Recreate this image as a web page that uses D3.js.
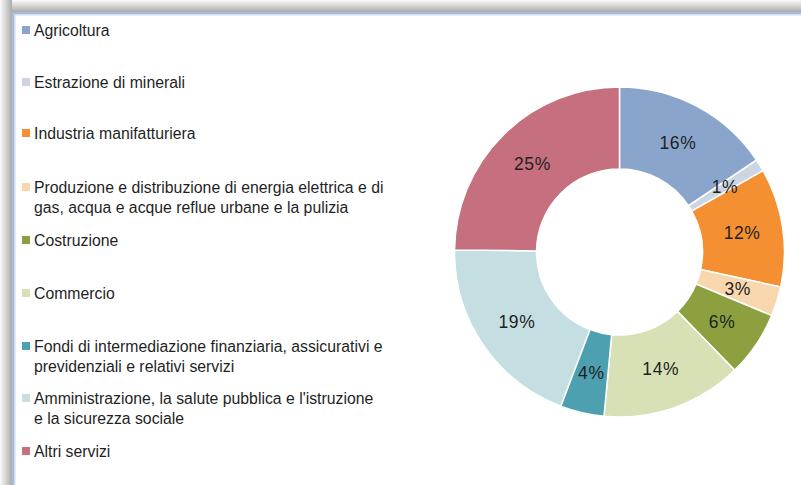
<!DOCTYPE html>
<html>
<head>
<meta charset="utf-8">
<script src="https://cdn.jsdelivr.net/npm/d3@7"></script>
<style>
  body { margin: 0; background: #fff; }
  svg { display: block; }
  text { font-family: "Liberation Sans", Arial, sans-serif; fill: #1f1f1f; }
</style>
</head>
<body>
<svg id="chart" width="801" height="485"></svg>
<script>
// settori e quote (%)
const sectors = [
    'Agricoltura',
    'Estrazione di minerali',
    'Industria manifatturiera',
    'Produzione e distribuzione di energia elettrica e di gas, acqua e acque reflue urbane e la pulizia',
    'Costruzione',
    'Commercio',
    'Fondi di intermediazione finanziaria, assicurativi e previdenziali e relativi servizi',
    'Amministrazione, la salute pubblica e l\'istruzione e la sicurezza sociale',
    'Altri servizi'
];
// legend lines as they wrap in the original
const legendLines = [
    ['Agricoltura'],
    ['Estrazione di minerali'],
    ['Industria manifatturiera'],
    ['Produzione e distribuzione di energia elettrica e di', 'gas, acqua e acque reflue urbane e la pulizia'],
    ['Costruzione'],
    ['Commercio'],
    ['Fondi di intermediazione finanziaria, assicurativi e', 'previdenziali e relativi servizi'],
    ['Amministrazione, la salute pubblica e l\'istruzione', 'e la sicurezza sociale'],
    ['Altri servizi']
];
const shares = [15.6, 1.2, 11.6, 2.9, 6.4, 13.8, 4.3, 19.4, 24.8];
const colors = ['#8aa5cc', '#ccd6e2', '#f49032', '#f9d7ae', '#8ca040', '#d8e0b5', '#4da0b0', '#c4dee2', '#c66f7f'];

const svg = d3.select('#chart');
const width = +svg.attr('width');
const height = +svg.attr('height');

// frame with soft shadow on top and left
const defs = svg.append('defs');
const gTop = defs.append('linearGradient').attr('id', 'shTop')
        .attr('x1', 0).attr('y1', 0).attr('x2', 0).attr('y2', 1);
gTop.append('stop').attr('offset', '0%').attr('stop-color', '#fafafa');
gTop.append('stop').attr('offset', '100%').attr('stop-color', '#ababab');
const gLeft = defs.append('linearGradient').attr('id', 'shLeft')
        .attr('x1', 0).attr('y1', 0).attr('x2', 1).attr('y2', 0);
gLeft.append('stop').attr('offset', '0%').attr('stop-color', '#fafafa');
gLeft.append('stop').attr('offset', '100%').attr('stop-color', '#ababab');

svg.append('rect').attr('width', width).attr('height', height).attr('fill', '#fff');
svg.append('rect').attr('x', 0).attr('y', 0).attr('width', width).attr('height', 12)
        .attr('fill', 'url(#shTop)');
svg.append('rect').attr('x', 0).attr('y', 0).attr('width', 12).attr('height', height)
        .attr('fill', 'url(#shLeft)');
svg.append('rect').attr('x', 12).attr('y', 12).attr('width', width).attr('height', 2)
        .attr('fill', '#a9bcd7');
svg.append('rect').attr('x', 12).attr('y', 14).attr('width', width).attr('height', 1.5)
        .attr('fill', '#cddcf0');
svg.append('rect').attr('x', 12).attr('y', 12).attr('width', 2).attr('height', height)
        .attr('fill', '#a9bcd7');
svg.append('rect').attr('x', 14).attr('y', 14).attr('width', 1.5).attr('height', height)
        .attr('fill', '#cddcf0');

// donut
const cx = 619.5, cy = 252;
const outerR = 165, innerR = 83;
const pie = d3.pie().sort(null).value(d => d);
const arc = d3.arc().innerRadius(innerR).outerRadius(outerR);
const labelArc = d3.arc().innerRadius(124).outerRadius(124);
const fmt = d => d3.format('.0f')(d) + '%';

const g = svg.append('g').attr('transform', `translate(${cx}, ${cy})`);
const arcs = pie(shares);
g.selectAll('path.slice')
        .data(arcs)
        .enter()
        .append('path')
        .attr('class', 'slice')
        .attr('d', arc)
        .attr('fill', (d, i) => colors[i])
        .attr('stroke', '#fff')
        .attr('stroke-width', 1.5);
g.selectAll('text.pct')
        .data(arcs)
        .enter()
        .append('text')
        .attr('class', 'pct')
        .attr('transform', d => `translate(${labelArc.centroid(d)})`)
        .attr('text-anchor', 'middle')
        .attr('dy', '0.35em')
        .style('font-size', '17.5px')
        .style('letter-spacing', '0.6px')
        .text(d => fmt(d.data));

// legend
const legendY = [30, 82, 133, 187, 240, 293, 346, 398, 451];
const lineH = 20;
const legend = svg.append('g');
legendLines.forEach((lines, i) => {
    const item = legend.append('g').attr('transform', `translate(0, ${legendY[i]})`);
    item.append('rect')
            .attr('x', 22).attr('y', -4)
            .attr('width', 8).attr('height', 8)
            .attr('fill', colors[i]);
    lines.forEach((line, j) => {
        item.append('text')
                .attr('x', 34)
                .attr('y', j * lineH)
                .attr('dy', '0.35em')
                .style('font-size', '15.8px')
                .text(line);
    });
});
</script>
</body>
</html>
